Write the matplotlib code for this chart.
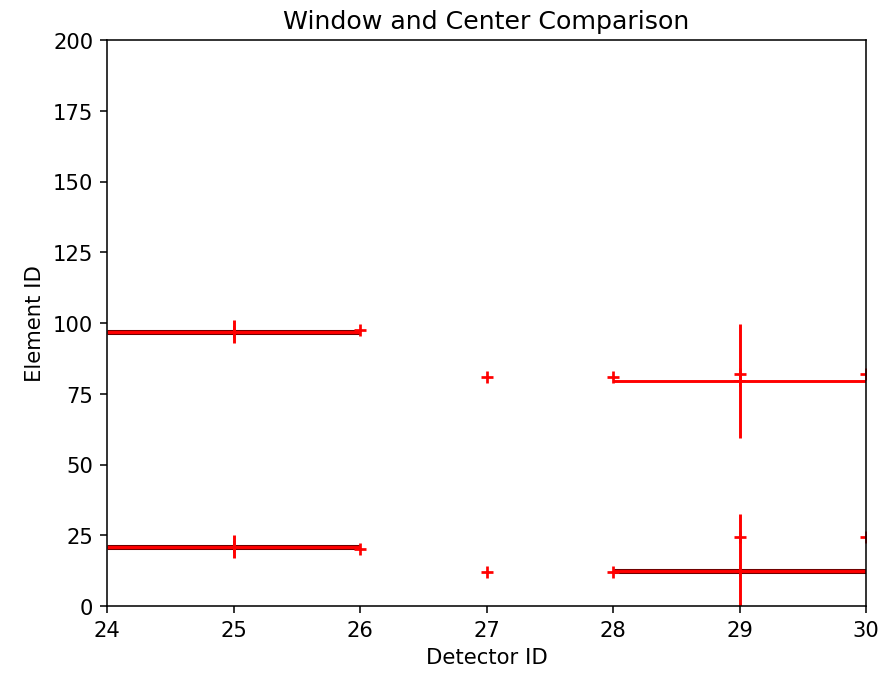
import matplotlib
matplotlib.use("Agg")
import matplotlib.pyplot as plt

# centre points per detector
det_ids = [26, 27, 28, 29, 30]
center_hi = [97.5, 81, 81, 82, 82]
center_lo = [20, 12, 12, 24.5, 24.5]

# windows: detector, element, half width in x, half width in y
win_x = [25, 25, 29, 29]
win_y = [97, 21, 79.5, 12.5]
win_xerr = [1, 1, 1, 1]
win_yerr = [4, 4, 20, 20]
dark = [True, True, False, True]

plt.rcParams['font.size'] = 10.9

fig = plt.figure(figsize=(6.386, 4.814), dpi=140)
ax = fig.add_axes([0.1197, 0.0994, 0.849, 0.8398])

for x, y, xe, ye, d in zip(win_x, win_y, win_xerr, win_yerr, dark):
    if d:
        # overlapping window edges show up darker
        ax.errorbar(x, y, xerr=xe, fmt='none', ecolor='#700000', elinewidth=2.6)
    ax.errorbar(x, y, xerr=xe, yerr=ye, fmt='r+', ecolor='red', elinewidth=1.5)

ax.plot(det_ids, center_hi, 'r+', markeredgewidth=1.4)
ax.plot(det_ids, center_lo, 'r+', markeredgewidth=1.4)

ax.set_xlim(24, 30)
ax.set_ylim(0, 200)
ax.set_xticks([24, 25, 26, 27, 28, 29, 30])
ax.set_yticks(range(0, 201, 25))
ax.set_title("Window and Center Comparison", fontsize=13)
ax.set_xlabel("Detector ID")
ax.set_ylabel("Element ID")

fig.savefig("out.png", dpi=140)
